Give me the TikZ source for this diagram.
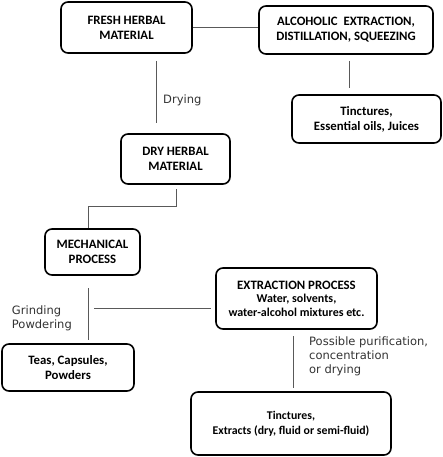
\documentclass[tikz,border=0pt]{standalone}
\usepackage{fontspec}
\setmainfont{Carlito}
\newfontfamily\labelfont{DejaVu Sans}
\begin{document}
\begin{tikzpicture}[x=1pt,y=-1pt,
  box/.style={draw=black,line width=1.6pt,rounded corners=7pt,align=center,
    font=\bfseries\fontsize{12.8}{15}\selectfont,inner sep=0pt},
  conn/.style={draw=black!65,line width=1pt},
  lbl/.style={font=\labelfont\fontsize{11.5}{14}\selectfont,text=black!80,inner sep=0pt}]
\useasboundingbox (0,0) rectangle (443,457);
\node[box,minimum width=131pt,minimum height=51pt] (fresh) at (126.5,27.5) {FRESH HERBAL\\MATERIAL};
\node[box,minimum width=174pt,minimum height=48pt] (alc) at (346,30) {ALCOHOLIC\ \ EXTRACTION,\\DISTILLATION, SQUEEZING};
\node[box,minimum width=149pt,minimum height=48pt] (tinc) at (366.5,119) {Tinctures,\\Essential oils, Juices};
\node[box,minimum width=109pt,minimum height=50pt] (dry) at (175.5,159) {DRY HERBAL\\MATERIAL};
\node[box,minimum width=95pt,minimum height=46pt] (mech) at (92.5,252) {MECHANICAL\\PROCESS};
\node[box,minimum width=161pt,minimum height=61pt] (extr) at (296.5,298.5) {EXTRACTION PROCESS\\[-1.5pt]{\fontsize{12}{13}\selectfont Water, solvents,}\\[-1.5pt]{\fontsize{12}{13}\selectfont water-alcohol mixtures etc.}};
\node[box,minimum width=132pt,minimum height=47pt] (teas) at (68,367.5) {Teas, Capsules,\\Powders};
\node[box,minimum width=200pt,minimum height=63pt,font=\bfseries\fontsize{11.8}{15}\selectfont] (ext2) at (291,423.5) {Tinctures,\\Extracts (dry, fluid or semi-fluid)};

\coordinate (d1) at (156,61);
\coordinate (d2) at (156,123);
\coordinate (a1) at (349,61);
\coordinate (a2) at (349,88);
\coordinate (m1) at (176,189);
\coordinate (m2) at (176,206);
\coordinate (m3) at (88,206);
\coordinate (g1) at (88,288);
\coordinate (g2) at (88,340);
\coordinate (h1) at (94,308);
\coordinate (h2) at (211,308);
\coordinate (e1) at (293,336);
\coordinate (e2) at (293,388);

\draw[conn] (fresh.east) -- (alc.west |- fresh.east);
\draw[conn] (d1) -- (d2);
\draw[conn] (a1) -- (a2);
\draw[conn] (m1) -- (m2) -- (m3) -- (m3 |- mech.north);
\draw[conn] (g1) -- (g2);
\draw[conn] (h1) -- (h2);
\draw[conn] (e1) -- (e2);

\node[lbl,anchor=west] (ldry) at (163,100) {Drying};
\node[lbl,anchor=east,align=left] (lgr) at (72,318) {Grinding\\Powdering};
\node[lbl,anchor=north west,align=left] (lpos) at (309,337) {Possible purification,\\concentration\\or drying};
\end{tikzpicture}
\end{document}
